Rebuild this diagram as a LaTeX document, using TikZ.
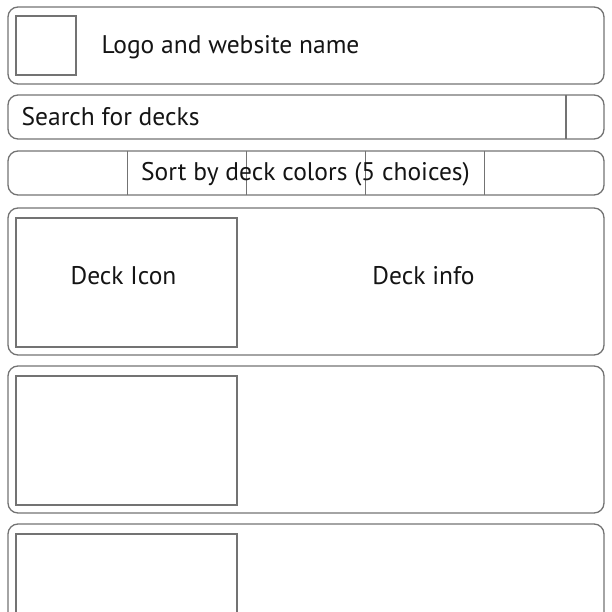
\documentclass[tikz,border=0pt]{standalone}
\usepackage{fontspec}
\setmainfont{PT Sans}
\begin{document}
\begin{tikzpicture}[x=1pt,y=-1pt,line width=1.3pt]
\tikzset{
  frame/.style={draw=black!55, rounded corners=10pt},
  box/.style={draw=black!55},
  label/.style={inner sep=0pt, font=\fontsize{25.5}{30}\selectfont, text=black!92}
}
\useasboundingbox (0,0) rectangle (612,612);
\clip (0,0) rectangle (612,612);

% Header

\draw[frame] (8,7) rectangle (604,84);
\draw[box] (16,16) rectangle (76,75);
\node[label, anchor=base west] (logo) at (101,53.7) {Logo and website name};

% Search

\draw[frame] (8,95) rectangle (604,139);
\draw[box] (566,95) -- (566,139);
\node[label, anchor=base west] (search) at (21,125.7) {Search for decks};

% Sort

\draw[frame] (8,151) rectangle (604,195);
\foreach \x in {1,...,4}
  \draw[box] (8+119.2*\x,151) -- (8+119.2*\x,195);
\node[label, anchor=base] (sort) at (305.5,181) {Sort by deck colors (5 choices)};

% Decks

\foreach \y in {208,366,524} {
  \draw[frame] (8,\y) rectangle (604,\y+147);
  \draw[box] (16,\y+10) rectangle (237,\y+139);
}
\node[label, anchor=base] (icon) at (123.5,284.3) {Deck Icon};
\node[label, anchor=base] (info) at (423.5,284.3) {Deck info};

\end{tikzpicture}
\end{document}
